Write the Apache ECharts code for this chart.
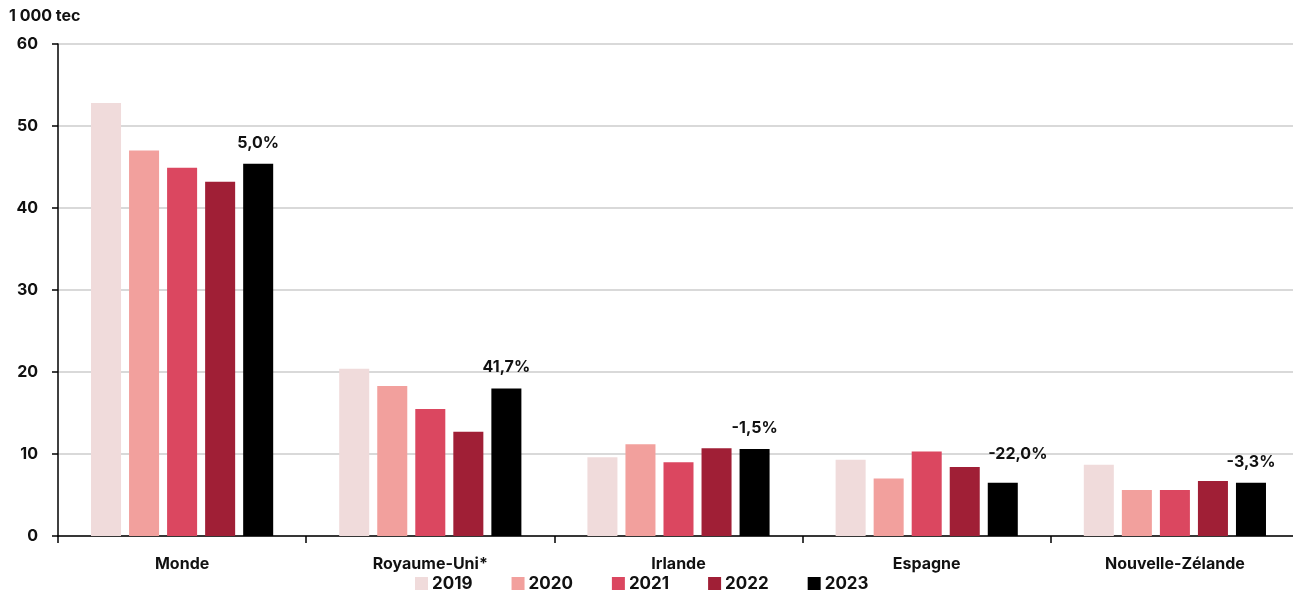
<!DOCTYPE html>
<html><head><meta charset="utf-8">
<script src="https://cdn.jsdelivr.net/npm/echarts@6/dist/echarts.min.js"></script>
<style>html,body{margin:0;padding:0;background:#fff;overflow:hidden}#c{width:1320px;height:598px}</style>
</head><body><div id="c"></div>
<script>
const categories = ['Monde', 'Royaume-Uni*', 'Irlande', 'Espagne', 'Nouvelle-Zélande'];
const years = ['2019', '2020', '2021', '2022', '2023'];
const v2019 = [52.8, 20.4, 9.6, 9.3, 8.7];
const v2020 = [47.0, 18.3, 11.2, 7.0, 5.6];
const v2021 = [44.9, 15.5, 9.0, 10.3, 5.6];
const v2022 = [43.2, 12.7, 10.7, 8.4, 6.7];
const v2023 = [45.4, 18.0, 10.6, 6.5, 6.5];
const growthLabels = ['5,0%', '41,7%', '-1,5%', '-22,0%', '-3,3%'];
const yTicks = [0, 10, 20, 30, 40, 50, 60];
const unitLabel = '1 000 tec';

const colors = ['#f0dbdb', '#f2a09d', '#db4760', '#a01f36', '#000000'];
const FONT = 'Inter, Lato, "Noto Sans", sans-serif';
const values = [v2019, v2020, v2021, v2022, v2023];

const series = years.map((y, i) => {
  const s = {
    name: y, type: 'bar', data: values[i].slice(),
    barGap: '26.7%', barCategoryGap: '26.6%',
    itemStyle: { color: colors[i] }
  };
  if (i === 4) {
    s.data = values[i].map((v, k) => {
      const d = { value: v, label: { show: true, formatter: growthLabels[k], position: 'top', distance: 13,
        color: '#111', fontFamily: FONT, fontWeight: 'bold', fontSize: 16 } };
      if (k === 3) d.label.offset = [15, -8];
      return d;
    });
  }
  return s;
});

const chart = echarts.init(document.getElementById('c'));
chart.setOption({
  animation: false,
  color: colors,
  textStyle: { fontFamily: FONT },
  graphic: [{ type: 'text', left: 9, top: 8, style: { text: unitLabel, fontFamily: FONT, fontWeight: 'bold', fontSize: 16, fill: '#111' } }],
  legend: {
    bottom: 1, left: 410, itemWidth: 13, itemHeight: 13, itemGap: 39,
    icon: 'rect',
    textStyle: { fontFamily: FONT, fontWeight: 'bold', fontSize: 17, color: '#111', padding: [0, 0, 0, -1] },
    data: years
  },
  grid: { left: 58, top: 44, width: 1241, bottom: 62 },
  xAxis: {
    type: 'category', data: categories,
    axisLine: { lineStyle: { color: '#000', width: 1.5 } },
    axisTick: { show: true, length: 7, lineStyle: { color: '#000', width: 1.5 } },
    axisLabel: { color: '#111', fontFamily: FONT, fontWeight: 'bold', fontSize: 16, margin: 20 }
  },
  yAxis: {
    type: 'value', min: 0, max: 60, interval: 10,
    axisLine: { show: true, lineStyle: { color: '#000', width: 1.5 } },
    axisTick: { show: true, inside: false, length: 6, lineStyle: { color: '#000', width: 1.5 } },
    axisLabel: { color: '#111', fontFamily: FONT, fontWeight: 'bold', fontSize: 16, margin: 20,
      formatter: v => yTicks.includes(v) ? String(v) : '' },
    splitLine: { lineStyle: { color: '#d9d9d9', width: 2 } }
  },
  series: series
});
</script></body></html>
